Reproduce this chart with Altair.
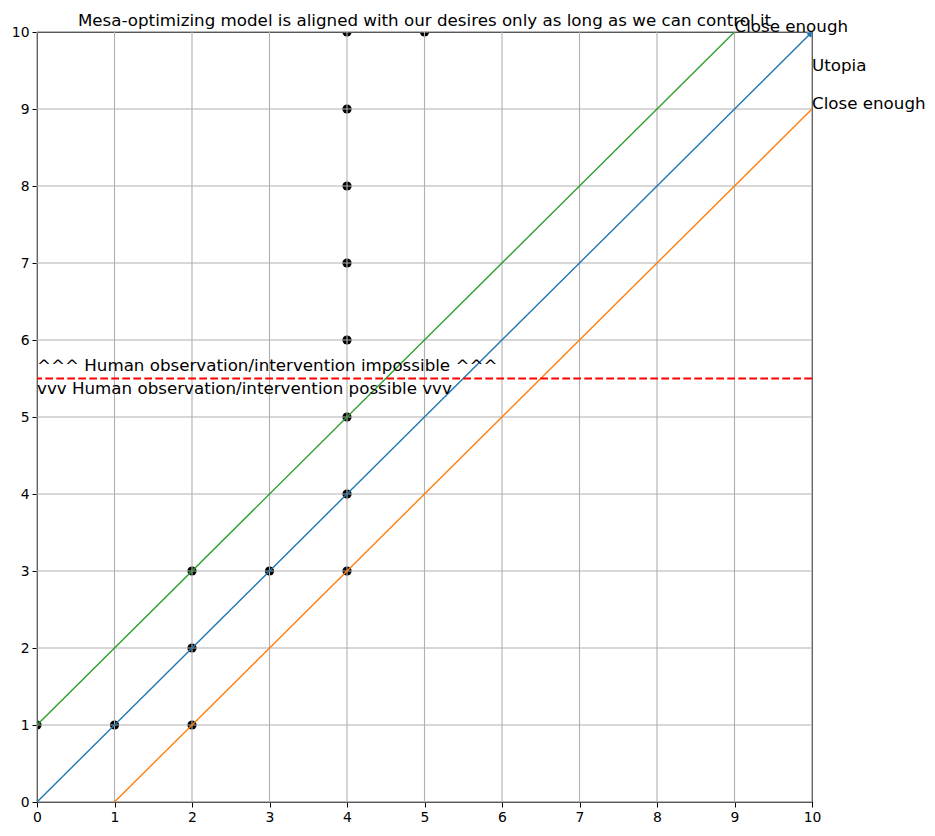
import altair as alt
import pandas as pd

title = "Mesa-optimizing model is aligned with our desires only as long as we can control it"

ticks = [0, 1, 2, 3, 4, 5, 6, 7, 8, 9, 10]

# lines
blue_x = [0, 10]
blue_y = [0, 10]
orange_x = [1, 10]
orange_y = [0, 9]
green_x = [0, 9]
green_y = [1, 10]

# scatter points
pt_x = [0, 1, 2, 2, 2, 3, 4, 4, 4, 4, 4, 4, 4, 4, 5]
pt_y = [1, 1, 1, 2, 3, 3, 3, 4, 5, 6, 7, 8, 9, 10, 10]

utopia_x = [10]
utopia_y = [10]

threshold = 5.5

label_text = ["Close enough", "Utopia", "Close enough"]
label_x = [9, 10, 10]
label_y = [10, 9.5, 9]

zone_text = ["^^^ Human observation/intervention impossible ^^^",
             "vvv Human observation/intervention possible vvv"]
zone_x = [0, 0]
zone_y = [5.6, 5.3]

FONT = "DejaVu Sans"

xs = alt.Scale(domain=[0, 10], nice=False, zero=False)
ys = alt.Scale(domain=[0, 10], nice=False, zero=False)

xaxis = alt.Axis(values=ticks, format="d", grid=False, tickColor="black", domainColor="black",
                 labelFont=FONT, labelFontSize=13.9, labelColor="black", tickSize=5,
                 labelPadding=3, title=None, labelFlush=False)
yaxis = alt.Axis(values=ticks, format="d", grid=False, tickColor="black", domainColor="black",
                 labelFont=FONT, labelFontSize=13.9, labelColor="black", tickSize=5,
                 labelPadding=3, title=None, labelFlush=False)

pts = pd.DataFrame({"x": pt_x, "y": pt_y})
points = alt.Chart(pts).mark_circle(color="black", size=85, opacity=1, clip=True).encode(
    x=alt.X("x:Q", scale=xs, axis=xaxis),
    y=alt.Y("y:Q", scale=ys, axis=yaxis),
)

ut = pd.DataFrame({"x": utopia_x, "y": utopia_y})
utopia = alt.Chart(ut).mark_circle(color="#1f77b4", size=110, opacity=1, clip=True).encode(
    x=alt.X("x:Q", scale=xs), y=alt.Y("y:Q", scale=ys))

tk = pd.DataFrame({"t": ticks})
vgrid = alt.Chart(tk).mark_rule(color="#b0b0b0", strokeWidth=1.1).encode(
    x=alt.X("t:Q", scale=xs))
hgrid = alt.Chart(tk).mark_rule(color="#b0b0b0", strokeWidth=1.1).encode(
    y=alt.Y("t:Q", scale=ys))

def line(xv, yv, color):
    df = pd.DataFrame({"x": xv, "y": yv})
    return alt.Chart(df).mark_line(color=color, strokeWidth=1.4, clip=True).encode(
        x=alt.X("x:Q", scale=xs), y=alt.Y("y:Q", scale=ys))

blue = line(blue_x, blue_y, "#1f77b4")
orange = line(orange_x, orange_y, "#ff7f0e")
green = line(green_x, green_y, "#2ca02c")

red = alt.Chart(pd.DataFrame({"y": [threshold]})).mark_rule(
    color="red", strokeWidth=2.1, strokeDash=[7.7, 3.3]).encode(
    y=alt.Y("y:Q", scale=ys))

lab = pd.DataFrame({"t": label_text, "x": label_x, "y": label_y})
labels = alt.Chart(lab).mark_text(align="left", baseline="alphabetic", font=FONT,
                                  fontSize=16.7, color="black").encode(
    x=alt.X("x:Q", scale=xs), y=alt.Y("y:Q", scale=ys), text="t:N")

zn = pd.DataFrame({"t": zone_text, "x": zone_x, "y": zone_y})
zones = alt.Chart(zn).mark_text(align="left", baseline="alphabetic", font=FONT,
                                fontSize=16.7, color="black").encode(
    x=alt.X("x:Q", scale=xs), y=alt.Y("y:Q", scale=ys), text="t:N")

chart = alt.layer(points, utopia, vgrid, hgrid, blue, orange, green, red, labels, zones).properties(
    width=775, height=770,
    title=alt.TitleParams(title, font=FONT, fontSize=16.7, fontWeight="normal",
                          color="black", anchor="middle", frame="group", offset=-11),
    autosize=alt.AutoSizeParams(type="none"),
    padding={"left": 29, "top": 24, "right": 115, "bottom": 25},
).configure_view(stroke="black", strokeWidth=1.1)

chart.save("out.html", embed_options={"renderer": "svg", "actions": False})
